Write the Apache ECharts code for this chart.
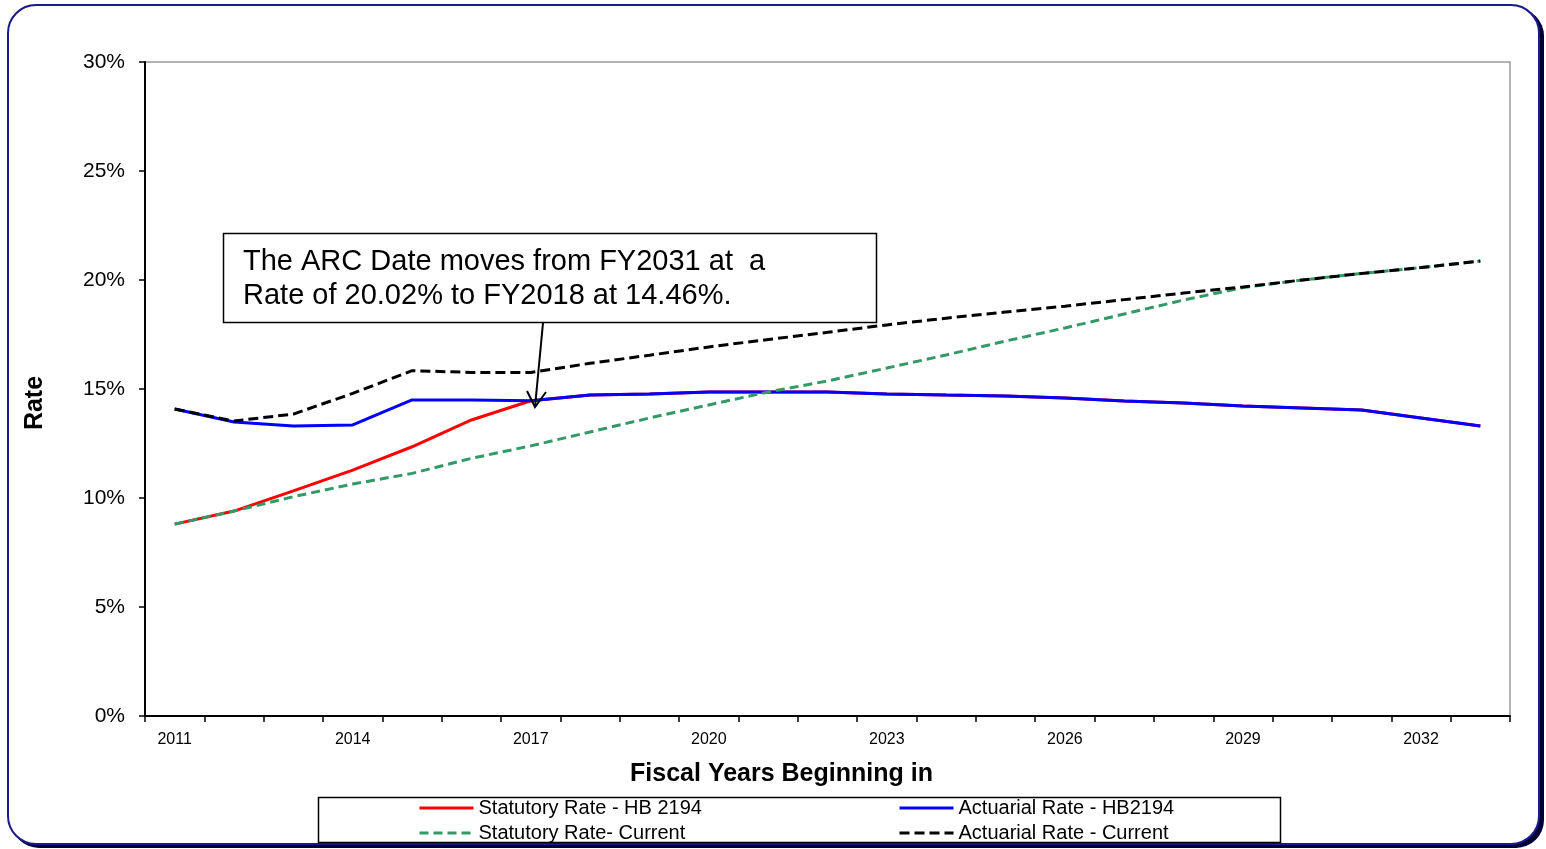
<!DOCTYPE html>
<html>
<head>
<meta charset="utf-8">
<script src="https://cdn.jsdelivr.net/npm/echarts@6/dist/echarts.min.js"></script>
<style>
  html, body { margin: 0; padding: 0; background: #fff; }
  #chart { width: 1546px; height: 849px; }
</style>
</head>
<body>
<div id="chart"></div>
<script>
// fiscal years on the category axis
const years = ['2011', '2012', '2013', '2014', '2015', '2016', '2017', '2018', '2019', '2020', '2021', '2022',
  '2023', '2024', '2025', '2026', '2027', '2028', '2029', '2030', '2031', '2032', '2033'];

// rates in percent
const statutoryHB = [8.8, 9.4, 10.33, 11.28, 12.35, 13.58, 14.46, 14.72, 14.77, 14.86, 14.86, 14.86,
  14.77, 14.72, 14.68, 14.59, 14.45, 14.36, 14.22, 14.13, 14.04, 13.67, 13.3];
const actuarialHB = [14.08, 13.49, 13.3, 13.35, 14.5, 14.5, 14.46, 14.72, 14.77, 14.86, 14.86, 14.86,
  14.77, 14.72, 14.68, 14.59, 14.45, 14.36, 14.22, 14.13, 14.04, 13.67, 13.3];
const statutoryCur = [8.8, 9.4, 10.06, 10.64, 11.13, 11.82, 12.39, 13.03, 13.67, 14.27, 14.86, 15.37,
  15.96, 16.56, 17.2, 17.8, 18.44, 19.08, 19.65, 20.0, 20.3, 20.57, 20.87];
const actuarialCur = [14.08, 13.53, 13.85, 14.8, 15.84, 15.76, 15.76, 16.18, 16.55, 16.93, 17.27, 17.6,
  17.94, 18.25, 18.53, 18.8, 19.1, 19.4, 19.68, 20.0, 20.3, 20.57, 20.87];

const yTicks = [0, 5, 10, 15, 20, 25, 30];

const FONT = 'Liberation Sans';
const chart = echarts.init(document.getElementById('chart'));

function lineSeries(name, data, color, dash) {
  return {
    name: name,
    type: 'line',
    data: data,
    symbol: 'none',
    showSymbol: false,
    smooth: false,
    lineStyle: { color: color, width: 3, type: dash || 'solid' },
    itemStyle: { color: color },
    animation: false
  };
}

// two stacked legend columns, like the boxed legend of the original
function legendColumn(left, names) {
  return {
    orient: 'vertical',
    left: left, top: 798,
    padding: 0,
    height: 52,
    itemWidth: 54, itemHeight: 14, itemGap: 5,
    itemStyle: { opacity: 0 },
    lineStyle: { width: 3 },
    textStyle: { fontSize: 20, color: '#000', fontFamily: FONT },
    data: names
  };
}

chart.setOption({
  textStyle: { fontFamily: FONT },
  grid: {
    left: 145, right: 36, top: 62, bottom: 133,
    show: true, borderColor: '#999', borderWidth: 1.5
  },
  xAxis: {
    type: 'category',
    data: years,
    boundaryGap: true,
    name: 'Fiscal Years Beginning in',
    nameLocation: 'middle',
    nameGap: 46,
    nameTextStyle: { fontSize: 25, fontWeight: 'bold', color: '#000', fontFamily: FONT, padding: [0, 92, 0, 0] },
    axisLine: { lineStyle: { color: '#000', width: 2 } },
    axisTick: { show: true, interval: 0, length: 6, lineStyle: { color: '#000', width: 1.5 } },
    axisLabel: { interval: 2, fontSize: 16, color: '#000', margin: 16, fontFamily: FONT },
    splitLine: { show: false }
  },
  yAxis: {
    type: 'value',
    min: yTicks[0],
    max: yTicks[yTicks.length - 1],
    interval: 5,
    name: 'Rate',
    nameLocation: 'middle',
    nameGap: 97,
    nameRotate: 90,
    nameTextStyle: { fontSize: 25, fontWeight: 'bold', color: '#000', fontFamily: FONT, padding: [0, 28, 0, 0] },
    axisLine: { show: true, lineStyle: { color: '#000', width: 2 } },
    axisTick: { show: true, length: 6, lineStyle: { color: '#000', width: 1.5 } },
    axisLabel: { formatter: '{value}%', fontSize: 21, color: '#000', margin: 20, fontFamily: FONT },
    splitLine: { show: false }
  },
  legend: [
    legendColumn(418, ['Statutory Rate - HB 2194', 'Statutory Rate- Current']),
    legendColumn(898, ['Actuarial Rate - HB2194', 'Actuarial Rate - Current'])
  ],
  series: [
    lineSeries('Statutory Rate - HB 2194', statutoryHB, '#ff0000'),
    lineSeries('Actuarial Rate - HB2194', actuarialHB, '#0000ff'),
    lineSeries('Statutory Rate- Current', statutoryCur, '#339966', [9, 5]),
    lineSeries('Actuarial Rate - Current', actuarialCur, '#000000', [10, 5])
  ],
  graphic: [
    {
      type: 'rect', z: -11, silent: true,
      shape: { x: 11, y: 8, width: 1533, height: 840, r: 28 },
      style: { fill: '#000033' }
    },
    {
      type: 'rect', z: -10, silent: true,
      shape: { x: 8, y: 5, width: 1531, height: 839, r: 28 },
      style: { fill: '#fff', stroke: '#1a1a8c', lineWidth: 2 }
    },
    {
      type: 'rect', z: 100, silent: true,
      shape: { x: 318.5, y: 797.5, width: 962, height: 45 },
      style: { fill: 'none', stroke: '#000', lineWidth: 1.5 }
    },
    {
      type: 'rect', z: 100, silent: true,
      shape: { x: 223.5, y: 233.5, width: 653, height: 89 },
      style: { fill: '#fff', stroke: '#000', lineWidth: 1.5 }
    },
    {
      type: 'text', z: 101, silent: true,
      left: 243, top: 245,
      style: {
        text: 'The ARC Date moves from FY2031 at  a\nRate of 20.02% to FY2018 at 14.46%.',
        font: '29px "Liberation Sans"', fill: '#000', lineHeight: 34
      }
    },
    {
      type: 'line', z: 101, silent: true,
      shape: { x1: 543, y1: 323, x2: 535, y2: 407 },
      style: { stroke: '#000', lineWidth: 2 }
    },
    {
      type: 'polyline', z: 101, silent: true,
      shape: { points: [[527, 391], [535, 407], [546, 392]] },
      style: { stroke: '#000', lineWidth: 2, fill: 'none' }
    }
  ]
});
</script>
</body>
</html>
